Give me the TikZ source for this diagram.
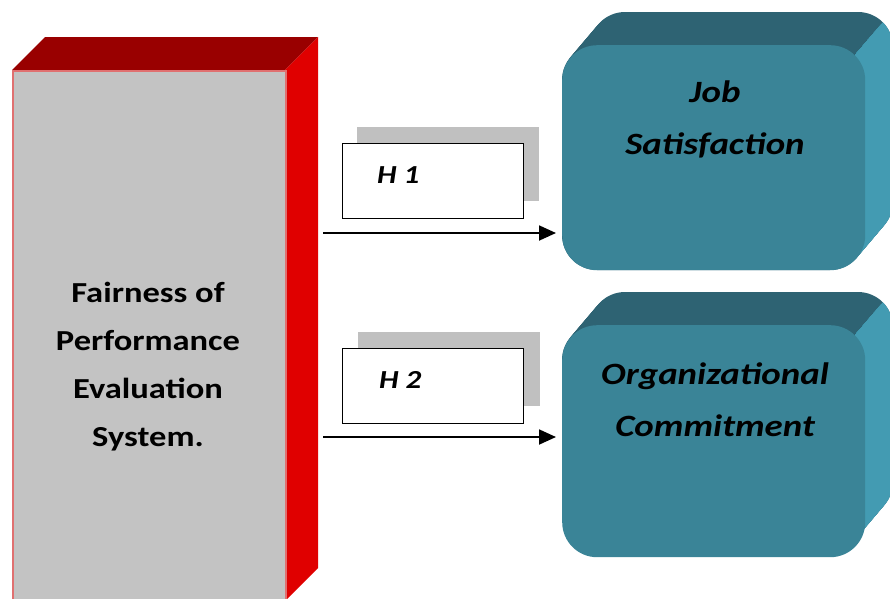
\documentclass[tikz,border=0pt]{standalone}
\usepackage{fontspec}
\setmainfont{Carlito}
\newfontfamily\widefont[FakeStretch=1.19]{Carlito}
\usetikzlibrary{arrows.meta}
\definecolor{grayface}{HTML}{C3C3C3}
\definecolor{redtop}{HTML}{990000}
\definecolor{redside}{HTML}{E00000}
\definecolor{redrim}{HTML}{E07070}
\definecolor{tealfront}{HTML}{3A8497}
\definecolor{tealtop}{HTML}{2E6373}
\definecolor{tealside}{HTML}{439BB2}
\definecolor{shadowgray}{HTML}{C0C0C0}
\tikzset{
  frontface/.style={fill=tealfront, rounded corners=35pt},
  sweeptop/.style={fill=tealtop, rounded corners=35pt},
  sweepside/.style={fill=tealside, rounded corners=35pt},
  hbox/.style={draw=black, line width=1.2pt, fill=white, minimum width=181pt, minimum height=75pt, inner sep=0pt},
  hshadow/.style={fill=shadowgray, minimum width=182pt, minimum height=74pt, inner sep=0pt},
  hlabel/.style={font=\widefont\fontsize{26}{30}\selectfont\bfseries\itshape, inner sep=0pt, anchor=west},
  bigtext/.style={font=\widefont\fontsize{31}{52}\selectfont\bfseries\itshape, align=center, text=black},
  arrowline/.style={line width=1.8pt, -{Triangle[length=17pt,width=15pt]}}
}
\begin{document}
\begin{tikzpicture}[x=1pt,y=-1pt]
\useasboundingbox (0,0) rectangle (890,598);
% ---- left 3D box
\fill[redtop] (12,70) -- (45,37) -- (318,37) -- (285,70) -- cycle;
\fill[redside] (285,70) -- (318,37) -- (318,568) -- (285,601) -- cycle;
\node[draw=redrim, line width=1.5pt, fill=grayface, minimum width=273pt, minimum height=540pt, inner sep=0pt, anchor=north west] (fair) at (12,70) {};
\node[font=\widefont\fontsize{29}{48}\selectfont\bfseries, align=center] (fairtext) at (148,367) {Fairness of\\Performance\\Evaluation\\System.};
% ---- teal boxes (extrusions)
\foreach \yy/\nm in {45/job,325/org}{
  \foreach \t in {0,1,...,20}{
    \fill[sweeptop] (562+\t*1.4,\yy-\t*1.65) rectangle (865+\t*1.4,\yy+225-\t*1.65);
  }
  \begin{scope}
    \clip (855,\yy+10) -- (939,\yy-89) -- (1000,\yy-89) -- (1000,\yy+400) -- (855,\yy+400) -- cycle;
    \foreach \t in {0,1,...,20}{
      \fill[sweepside] (562+\t*1.4,\yy-\t*1.65) rectangle (865+\t*1.4,\yy+225-\t*1.65);
    }
  \end{scope}
}
\node[frontface, minimum width=303pt, minimum height=225pt, inner sep=0pt, anchor=north west] (job) at (562,45) {};
\node[frontface, minimum width=303pt, minimum height=232pt, inner sep=0pt, anchor=north west] (org) at (562,325) {};
\node[bigtext] (jobtext) at (715,119) {Job\\Satisfaction};
\node[bigtext] (orgtext) at (715,400) {Organizational\\Commitment};
% ---- hypothesis boxes
\node[hshadow, anchor=north west] (h1s) at (357,127) {};
\node[hbox, anchor=north west] (h1) at (342,143) {};
\node[hlabel] (h1t) at (377,175) {H 1};
\node[hshadow, anchor=north west] (h2s) at (358,332) {};
\node[hbox, anchor=north west] (h2) at (342,348) {};
\node[hlabel] (h2t) at (379,380) {H 2};
% ---- arrows
\coordinate (a1) at (323,233);
\coordinate (a2) at (323,437);
\draw[arrowline] (a1) -- ([xshift=-6pt]job.west |- a1);
\draw[arrowline] (a2) -- ([xshift=-6pt]org.west |- a2);
\end{tikzpicture}
\end{document}
